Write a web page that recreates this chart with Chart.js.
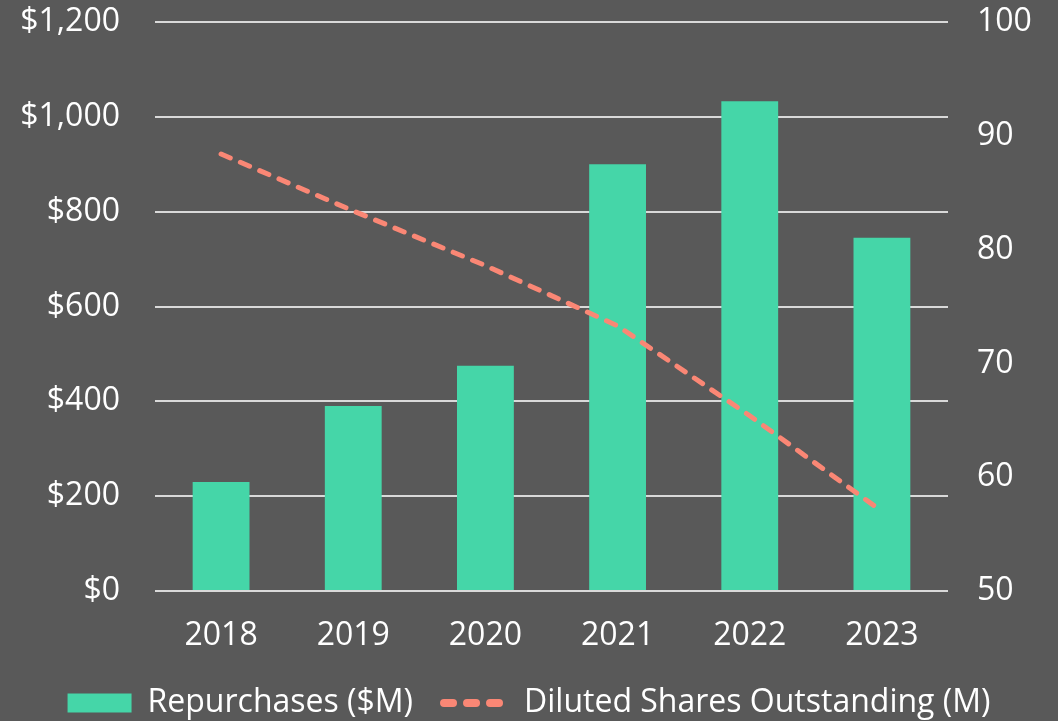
<!DOCTYPE html>
<html>
<head>
<meta charset="utf-8">
<script src="https://cdn.jsdelivr.net/npm/chart.js@4"></script>
<style>
  html, body { margin: 0; padding: 0; background: #595959; }
  #wrap { width: 1058px; height: 721px; }
</style>
</head>
<body>
<div id="wrap"><canvas id="myChart"></canvas></div>
<script>
const years = ["2018", "2019", "2020", "2021", "2022", "2023"];
const repurchases = [230, 390, 475, 900, 1033, 745];
const dilutedShares = [88.4, 83.4, 78.6, 73.3, 65.4, 57.0];
const leftTicks = [0, 200, 400, 600, 800, 1000, 1200];
const rightTicks = [50, 60, 70, 80, 90, 100];

const FONT = "'Open Sans', sans-serif";
const ctx = document.getElementById("myChart");

const bgPlugin = {
  id: "bg",
  beforeDraw(chart) {
    const c = chart.ctx;
    c.save();
    c.fillStyle = "#595959";
    c.fillRect(0, 0, chart.width, chart.height);
    c.restore();
  },
};

// keep the tick padding from pushing the plot area down
function fixWidth(w) {
  return function (scale) {
    scale.width = w;
    scale.paddingTop = 0;
    scale.paddingBottom = 0;
  };
}

new Chart(ctx, {
  type: "bar",
  data: {
    labels: years,
    datasets: [
      {
        type: "line",
        label: "Diluted Shares Outstanding (M)",
        data: dilutedShares,
        yAxisID: "y1",
        borderColor: "#FA8775",
        backgroundColor: "#FA8775",
        borderWidth: 5,
        borderDash: [10, 11],
        borderCapStyle: "round",
        pointRadius: 0,
        tension: 0,
        pointStyle: "line",
        order: 0,
      },
      {
        label: "Repurchases ($M)",
        data: repurchases,
        yAxisID: "y",
        backgroundColor: "#45D6A8",
        borderWidth: 0,
        barPercentage: 0.43,
        categoryPercentage: 1,
        pointStyle: "rect",
        order: 1,
      },
    ],
  },
  options: {
    responsive: true,
    maintainAspectRatio: false,
    animation: false,
    layout: { padding: { top: 22, left: 0, right: 0, bottom: -8 } },
    scales: {
      x: {
        grid: { display: false },
        border: { display: false },
        ticks: { color: "white", font: { family: FONT, size: 32 }, padding: 18 },
        afterFit(scale) { scale.height = 65; },
      },
      y: {
        position: "left",
        min: 0,
        max: 1200,
        afterBuildTicks(scale) { scale.ticks = leftTicks.map((v) => ({ value: v })); },
        grid: { color: "#d9d9d9", lineWidth: 2, drawTicks: false },
        border: { display: false },
        ticks: {
          color: "white",
          font: { family: FONT, size: 32 },
          padding: 35,
          callback: (v) => "$" + v.toLocaleString("en-US"),
        },
        afterFit: fixWidth(155),
      },
      y1: {
        position: "right",
        min: 50,
        max: 100,
        afterBuildTicks(scale) { scale.ticks = rightTicks.map((v) => ({ value: v })); },
        grid: { display: false, drawTicks: false },
        border: { display: false },
        ticks: { color: "white", font: { family: FONT, size: 32 }, padding: 29 },
        afterFit: fixWidth(110),
      },
    },
    plugins: {
      tooltip: { enabled: false },
      legend: {
        position: "bottom",
        reverse: true,
        labels: {
          color: "white",
          font: { family: FONT, size: 32 },
          usePointStyle: true,
          pointStyleWidth: 64,
          boxHeight: 19,
          padding: 31,
          generateLabels(chart) {
            const items = Chart.defaults.plugins.legend.labels.generateLabels(chart);
            items.forEach((it) => {
              if (it.datasetIndex === 0) {
                it.lineWidth = 8;
                it.lineDash = [9, 14];
                it.lineCap = "round";
              }
            });
            return items;
          },
        },
      },
    },
  },
  plugins: [bgPlugin],
});
</script>
</body>
</html>
